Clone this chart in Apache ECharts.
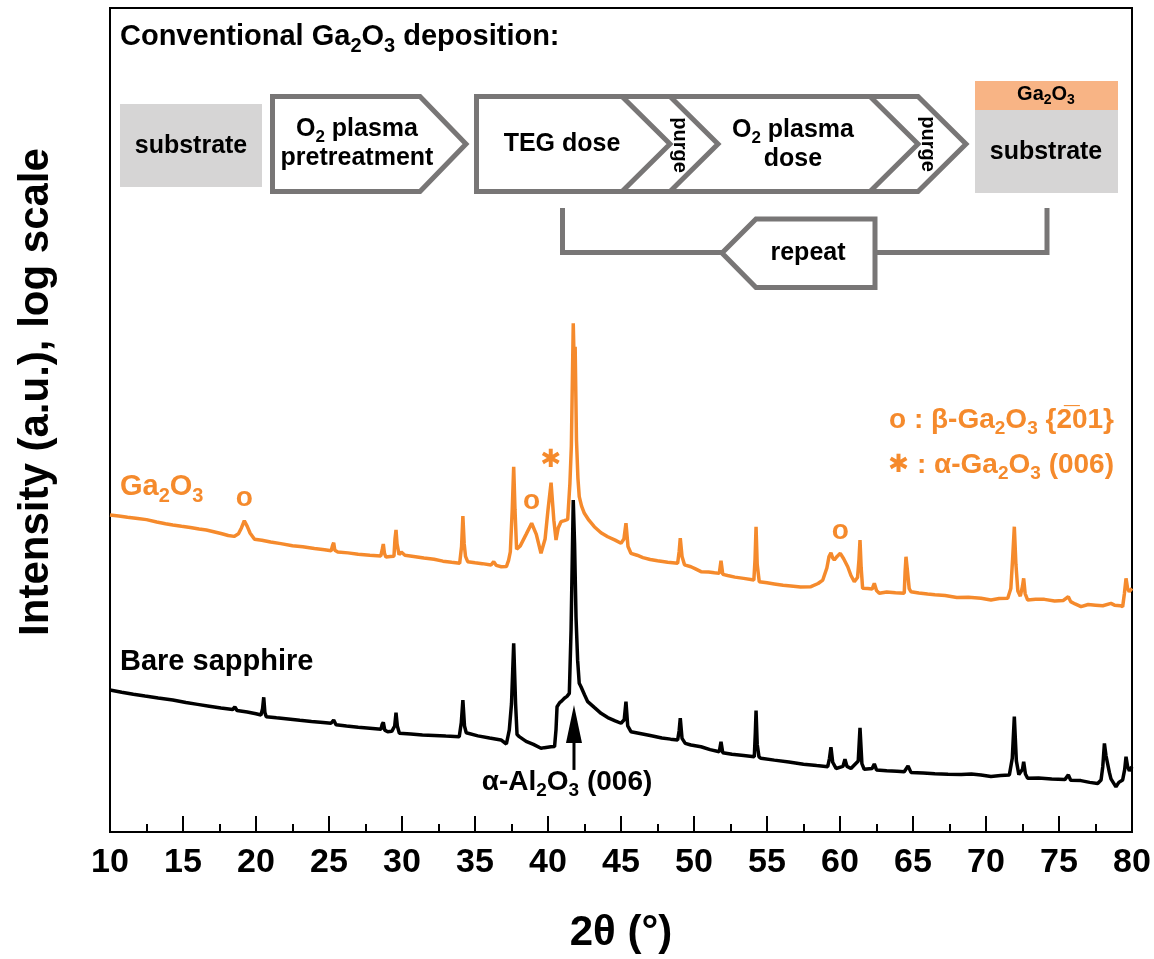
<!DOCTYPE html>
<html>
<head>
<meta charset="utf-8">
<script src="https://cdn.jsdelivr.net/npm/echarts@6/dist/echarts.min.js"></script>
<style>
  html, body { margin: 0; padding: 0; background: #fff; }
  #chart { width: 1154px; height: 959px; }
</style>
</head>
<body>
<div id="chart"></div>
<script>
// 2θ scan range and major tick step (degrees)
const thetaRange = [10, 80];
const thetaStep = 5;

// XRD scan of the Ga2O3 film on sapphire: [2θ (°), intensity (a.u.)]
const ga2o3Scan = [
  [10.0, 838], [10.6, 826], [11.2, 812], [11.9, 798], [12.5, 786], [13.2, 760], [13.8, 742], [14.3, 729],
  [14.9, 716], [15.5, 705], [16.1, 690], [16.6, 680], [17.1, 664], [17.6, 648], [18.1, 630], [18.5, 622],
  [18.8, 645], [19.0, 700], [19.2, 774], [19.4, 715], [19.6, 650], [19.9, 597], [20.4, 590], [21.0, 575],
  [21.7, 562], [22.5, 546], [23.2, 538], [24.0, 525], [24.7, 516], [25.15, 509], [25.25, 550], [25.32, 569],
  [25.4, 512], [25.6, 500], [26.3, 494], [27.0, 485], [27.8, 478], [28.55, 473], [28.65, 520], [28.72, 559],
  [28.8, 490], [28.9, 466], [29.2, 470], [29.45, 472], [29.52, 600], [29.59, 680], [29.66, 560], [29.8, 482],
  [29.95, 500], [30.05, 509], [30.2, 478], [30.8, 470], [31.5, 460], [32.2, 452], [32.8, 440], [33.4, 433],
  [33.95, 427], [34.08, 540], [34.17, 827], [34.26, 560], [34.35, 470], [34.5, 437], [35.0, 430], [35.5, 425],
  [36.1, 417], [36.28, 437], [36.45, 415], [36.8, 407], [37.15, 408], [37.3, 445], [37.42, 502], [37.55, 900],
  [37.65, 1647], [37.74, 900], [37.85, 520], [38.1, 545], [38.5, 640], [38.88, 747], [39.2, 640], [39.52, 491],
  [39.8, 600], [40.0, 900], [40.21, 1317], [40.4, 780], [40.55, 591], [40.7, 700], [40.89, 764], [41.12, 775],
  [41.35, 789], [41.5, 1300], [41.6, 2200], [41.73, 12215], [41.8, 6500], [41.86, 8810], [41.95, 2400], [42.05, 1400],
  [42.14, 1083], [42.3, 950], [42.49, 859], [42.8, 780], [43.17, 712], [43.63, 655], [44.09, 619], [44.6, 590],
  [45.0, 565], [45.2, 600], [45.34, 747], [45.48, 540], [45.68, 491], [46.1, 478], [46.5, 462], [47.0, 450],
  [47.5, 442], [48.2, 433], [48.88, 427], [48.98, 500], [49.06, 606], [49.18, 470], [49.35, 418], [49.79, 407],
  [50.1, 395], [50.48, 380], [51.0, 378], [51.4, 374], [51.73, 371], [51.85, 443], [51.97, 366], [52.3, 360],
  [52.8, 352], [53.4, 346], [54.1, 338], [54.18, 450], [54.25, 712], [54.33, 420], [54.47, 330], [55.0, 325],
  [55.5, 320], [56.1, 314], [56.64, 311], [57.3, 307], [58.01, 308], [58.5, 322], [58.82, 338], [59.1, 400],
  [59.25, 470], [59.38, 495], [59.5, 460], [59.61, 447], [59.8, 470], [60.02, 491], [60.25, 455], [60.53, 407],
  [60.75, 360], [60.98, 330], [61.2, 350], [61.3, 450], [61.37, 591], [61.45, 400], [61.55, 301], [61.9, 300],
  [62.2, 298], [62.35, 323], [62.5, 292], [62.69, 281], [63.2, 286], [63.8, 283], [64.4, 281], [64.46, 380],
  [64.52, 468], [64.6, 400], [64.66, 398], [64.74, 300], [64.86, 287], [65.4, 282], [66.0, 278], [66.5, 275],
  [67.2, 272], [68.0, 265], [68.8, 266], [69.66, 262], [70.34, 256], [70.9, 261], [71.49, 262], [71.7, 300],
  [71.82, 450], [71.94, 712], [72.05, 420], [72.18, 290], [72.35, 270], [72.5, 310], [72.58, 346], [72.68, 280],
  [72.85, 256], [73.4, 258], [74.0, 258], [74.7, 252], [75.3, 254], [75.64, 268], [75.8, 250], [76.1, 242],
  [76.51, 233], [77.0, 240], [77.5, 238], [78.0, 236], [78.56, 244], [78.8, 238], [79.2, 236], [79.36, 233],
  [79.48, 280], [79.59, 346], [79.7, 300], [79.81, 287], [80.0, 301]
];

// XRD scan of the bare c-plane sapphire substrate: [2θ (°), intensity (a.u.)]
const sapphireScan = [
  [10.0, 72.7], [10.8, 70.5], [11.6, 68.5], [12.4, 66.8], [13.3, 65], [14.3, 63.2], [15.2, 61], [16.0, 59.5],
  [16.8, 58], [17.6, 56.5], [18.4, 55.3], [18.55, 57.5], [18.7, 54.6], [19.4, 53.5], [20.0, 52.2], [20.34, 51.3],
  [20.45, 56], [20.53, 65.7], [20.61, 53], [20.7, 50.1], [21.4, 49.3], [22.2, 48.5], [23.0, 47.6], [23.8, 46.8],
  [24.6, 46.2], [25.14, 45.7], [25.32, 47.8], [25.48, 44.8], [26.2, 44], [27.0, 43.2], [27.8, 42.6], [28.56, 42.0],
  [28.64, 45], [28.72, 46.3], [28.82, 41.5], [29.02, 40.6], [29.3, 40.8], [29.5, 44], [29.59, 53.0], [29.68, 44],
  [29.82, 39.7], [30.6, 39.3], [31.4, 38.8], [32.2, 38.5], [33.0, 38.2], [33.92, 37.9], [34.06, 46], [34.17, 63.2],
  [34.28, 44], [34.4, 40], [34.5, 39.3], [35.2, 38.3], [36.0, 37.2], [36.78, 36.2], [37.15, 34.2], [37.35, 41.6],
  [37.5, 60], [37.65, 139.6], [37.78, 60], [37.88, 39], [38.03, 37.9], [38.5, 35.5], [39.0, 34], [39.52, 32.2],
  [39.75, 32.5], [40.2, 32.9], [40.45, 33], [40.55, 42], [40.62, 57.6], [40.8, 61], [40.95, 62.5], [41.12, 64.8],
  [41.3, 66.5], [41.46, 69.4], [41.58, 168], [41.73, 1034], [41.82, 560], [41.92, 200], [42.03, 110], [42.14, 79.9],
  [42.26, 76.1], [42.5, 68], [42.72, 61.8], [43.17, 57], [43.63, 52.5], [44.09, 49.5], [44.6, 47.3], [45.0, 45.7],
  [45.22, 48], [45.34, 61.8], [45.46, 44], [45.68, 40.6], [46.3, 39.6], [47.0, 38.5], [47.8, 37.2], [48.4, 36.6],
  [48.88, 36.2], [48.98, 41], [49.06, 49.0], [49.18, 37], [49.4, 34.5], [49.79, 33.7], [50.48, 32.9], [51.1, 31.6],
  [51.73, 30.7], [51.85, 35.3], [51.97, 30.3], [52.6, 29.6], [53.4, 29.1], [54.13, 28.6], [54.2, 40], [54.25, 54.5],
  [54.33, 34], [54.45, 28.6], [54.59, 28.0], [55.5, 27.3], [56.5, 26.6], [57.5, 25.8], [58.4, 25.3], [59.16, 24.9],
  [59.28, 28], [59.38, 32.7], [59.5, 26.5], [59.73, 24.3], [60.2, 25], [60.34, 27.6], [60.48, 25], [60.75, 24.3],
  [61.25, 27], [61.37, 42.9], [61.5, 26], [61.66, 24.0], [62.2, 24.3], [62.35, 25.9], [62.5, 23.8], [63.2, 23.5],
  [63.9, 23.4], [64.4, 23.2], [64.66, 25.2], [64.86, 23], [65.7, 22.8], [66.5, 22.6], [67.4, 22.4], [68.3, 22.3],
  [69.0, 22.5], [69.66, 22.2], [70.34, 21.7], [71.0, 22], [71.6, 22.2], [71.8, 28], [71.94, 50.1], [72.08, 27],
  [72.25, 22.3], [72.5, 24], [72.58, 26.7], [72.7, 22.5], [72.85, 21.2], [73.6, 21.3], [74.5, 21], [75.4, 20.8],
  [75.64, 22.2], [75.8, 20.6], [76.5, 20.5], [77.1, 20], [77.65, 19.7], [77.88, 20.7], [78.0, 25], [78.11, 34.5],
  [78.22, 29], [78.34, 28.6], [78.45, 23], [78.56, 21], [78.9, 18.8], [79.1, 20], [79.36, 20.7], [79.5, 24],
  [79.59, 28.6], [79.7, 25], [79.82, 23.5], [80.0, 24.9]
];

// Indexed film reflections: β-Ga2O3 {-201} family and α-Ga2O3 (006)
const betaPeaks = [[19.2, 774], [38.88, 747], [60.02, 491]];
const alphaGaPeaks = [[40.21, 1317]];
// Substrate α-Al2O3 (006) reflection position, marked by an arrow
const sapphirePeakTheta = 41.78;

const FONT = "'Liberation Sans', Arial, Helvetica, sans-serif";
const ORANGE = '#F58A2C';
const GRAY = '#787676';

const chart = echarts.init(document.getElementById('chart'));

chart.setOption({
  animation: false,
  backgroundColor: '#fff',
  grid: { left: 110, right: 22, top: 8, bottom: 127, show: true, borderColor: '#000', borderWidth: 2 },
  xAxis: {
    type: 'value', min: thetaRange[0], max: thetaRange[1], interval: thetaStep,
    name: '2θ (°)', nameLocation: 'middle', nameGap: 80,
    nameTextStyle: { fontSize: 42, fontWeight: 'bold', color: '#000', fontFamily: FONT },
    axisLine: { show: true, lineStyle: { color: '#000', width: 2 } },
    axisTick: { show: true, inside: true, length: 16, lineStyle: { color: '#000', width: 2 } },
    minorTick: { show: true, splitNumber: 2, length: 8, lineStyle: { color: '#000', width: 2 } },
    axisLabel: { fontSize: 34, fontWeight: 'bold', color: '#000', fontFamily: FONT, margin: 14 },
    splitLine: { show: false }, minorSplitLine: { show: false }
  },
  yAxis: {
    type: 'log', logBase: 10, min: 10, max: 1e6,
    axisLine: { show: true, lineStyle: { color: '#000', width: 2 } },
    axisTick: { show: false }, axisLabel: { show: false }, splitLine: { show: false }
  },
  series: [
    {
      type: 'line', name: 'Bare sapphire', data: sapphireScan, showSymbol: false, symbol: 'none',
      lineStyle: { color: '#000', width: 3.5 }, itemStyle: { color: '#000' }, z: 2
    },
    {
      type: 'line', name: 'Ga2O3', data: ga2o3Scan, showSymbol: false, symbol: 'none',
      lineStyle: { color: ORANGE, width: 3.5 }, itemStyle: { color: ORANGE }, z: 3,
      markPoint: {
        symbol: 'circle', symbolSize: 1, itemStyle: { color: 'rgba(0,0,0,0)' },
        label: {
          show: true, position: 'inside', formatter: '{b}', offset: [0, -22],
          color: ORANGE, fontSize: 28, fontWeight: 'bold', fontFamily: FONT
        },
        data: betaPeaks.map(p => ({ name: 'o', coord: p })).concat(
          alphaGaPeaks.map(p => ({
            name: '✱', coord: p,
            label: { fontFamily: "'DejaVu Sans', sans-serif", fontSize: 25, offset: [0, -22] }
          }))
        )
      }
    }
  ]
});

// Text helper: bold label with optional subscripts written as {s|..};
// the tall line box lets bottom-aligned subscripts drop below the baseline
function label(x, y, text, size, color, align, extra) {
  const subSize = Math.round(size * 0.68);
  return Object.assign({
    type: 'text', x: x, y: y, z: 100,
    style: {
      text: text, fill: color || '#000',
      fontSize: size, fontWeight: 'bold', fontFamily: FONT,
      lineHeight: Math.round(size * 1.32),
      align: align || 'center', textAlign: align || 'center',
      verticalAlign: 'middle', textVerticalAlign: 'middle',
      rich: {
        s: { fontSize: subSize, fontWeight: 'bold', fontFamily: FONT, verticalAlign: 'bottom' },
        ast: { fontSize: size - 3, fontFamily: "'DejaVu Sans', sans-serif", fontWeight: 'bold' }
      }
    }
  }, extra || {});
}

function outline(points, fill) {
  return {
    type: 'polygon', z: 90, shape: { points: points },
    style: { fill: fill || '#fff', stroke: GRAY, lineWidth: 5, lineJoin: 'miter' }
  };
}
function path(points) {
  return {
    type: 'polyline', z: 91, shape: { points: points },
    style: { fill: null, stroke: GRAY, lineWidth: 5, lineJoin: 'miter' }
  };
}

// Process flow: substrate -> pretreatment -> cycle -> coated substrate
const flow = [
  label(120, 37, 'Conventional Ga{s|2}O{s|3} deposition:', 29, '#000', 'left'),

  { type: 'rect', z: 90, shape: { x: 120, y: 104, width: 142, height: 83 }, style: { fill: '#d6d5d5' } },
  label(191, 146, 'substrate', 25),

  outline([[272.5, 96.5], [420, 96.5], [466, 144], [420, 191.5], [272.5, 191.5]]),
  label(357, 129, 'O{s|2} plasma', 25),
  label(357, 158, 'pretreatment', 25),

  outline([[476.5, 96.5], [918, 96.5], [966, 144], [918, 191.5], [476.5, 191.5]]),
  path([[622, 96.5], [670, 144], [622, 191.5]]),
  path([[670, 96.5], [718, 144], [670, 191.5]]),
  path([[870, 96.5], [918, 144], [870, 191.5]]),
  label(562, 144, 'TEG dose', 25),
  label(680, 145, 'purge', 20, '#000', 'center', { rotation: -Math.PI / 2 }),
  label(793, 130, 'O{s|2} plasma', 25),
  label(793, 159, 'dose', 25),
  label(928, 144, 'purge', 20, '#000', 'center', { rotation: -Math.PI / 2 }),

  { type: 'rect', z: 90, shape: { x: 975, y: 81, width: 143, height: 29 }, style: { fill: '#f8b485' } },
  { type: 'rect', z: 90, shape: { x: 975, y: 110, width: 143, height: 83 }, style: { fill: '#d6d5d5' } },
  label(1046, 94, 'Ga{s|2}O{s|3}', 20),
  label(1046, 152, 'substrate', 25),

  path([[562.5, 208], [562.5, 252.5], [724, 252.5]]),
  outline([[722, 253], [756, 219], [875, 219], [875, 287.5], [756, 287.5]]),
  path([[875, 252.5], [1047, 252.5], [1047, 208]]),
  label(808, 253, 'repeat', 25)
];

// Curve labels and phase legend
const px = chart.convertToPixel({ xAxisIndex: 0, yAxisIndex: 0 }, [sapphirePeakTheta, 59]);
const pxTail = chart.convertToPixel({ xAxisIndex: 0, yAxisIndex: 0 }, [sapphirePeakTheta, 23.8]);
const notes = [
  label(36, 392, 'Intensity (a.u.), log scale', 42, '#000', 'center', { rotation: Math.PI / 2 }),
  label(120, 487, 'Ga{s|2}O{s|3}', 29, ORANGE, 'left'),
  label(120, 662, 'Bare sapphire', 29, '#000', 'left'),
  label(1114, 420, 'o : β-Ga{s|2}O{s|3} {2\u030501}', 28, ORANGE, 'right'),
  label(1114, 465, '{ast|✱} : α-Ga{s|2}O{s|3} (006)', 28, ORANGE, 'right'),
  label(567, 782, 'α-Al{s|2}O{s|3} (006)', 28),
  {
    type: 'line', z: 95, shape: { x1: px[0], y1: pxTail[1], x2: px[0], y2: px[1] + 30 },
    style: { stroke: '#000', lineWidth: 3 }
  },
  {
    type: 'polygon', z: 96,
    shape: { points: [[px[0], px[1]], [px[0] - 8, px[1] + 38], [px[0] + 8, px[1] + 38]] },
    style: { fill: '#000' }
  }
];

chart.setOption({ graphic: flow.concat(notes) });
</script>
</body>
</html>
